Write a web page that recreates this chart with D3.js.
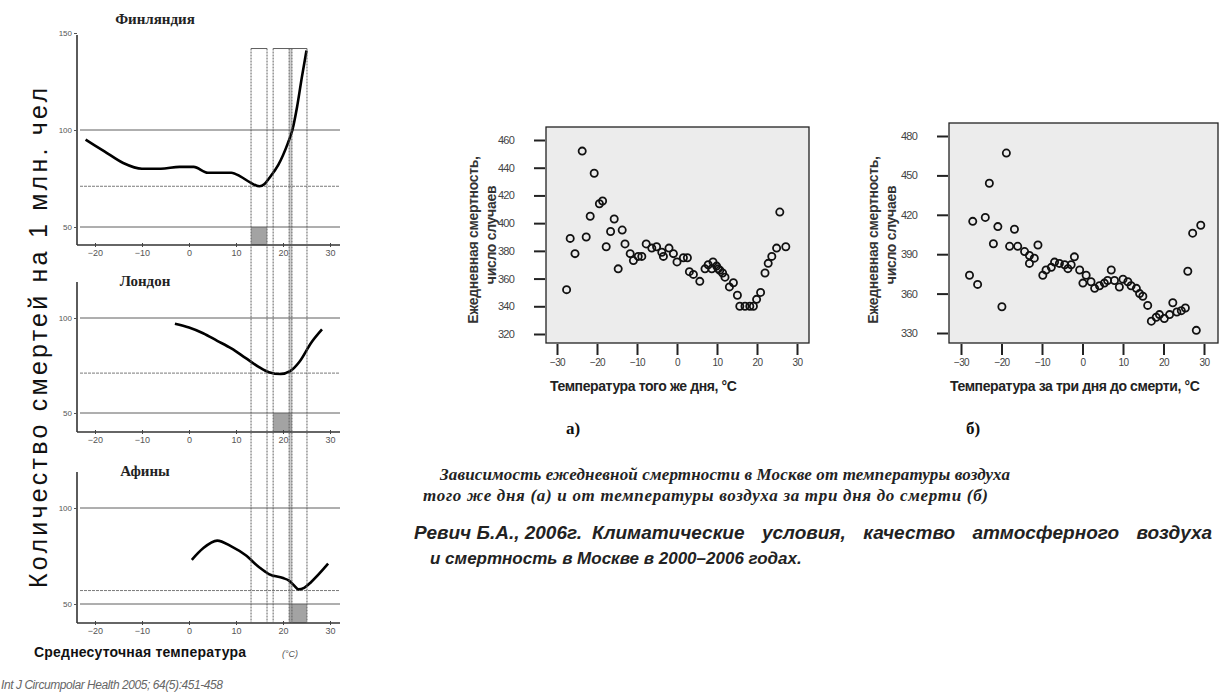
<!DOCTYPE html>
<html>
<head>
<meta charset="utf-8">
<script src="https://cdn.jsdelivr.net/npm/d3@7"></script>
<style>
body { margin: 0; background: #fff; }
svg { display: block; }
</style>
</head>
<body>
<div id="chart"></div>
<script>
// left block: deaths per 1 mln vs mean daily temperature
var tempTicks = [-20, -10, 0, 10, 20, 30];
var finTemp = [-22, -18, -14, -10, -6, -2, 1, 4, 7, 9, 11, 13, 15, 16, 17, 19, 21, 22, 23, 24, 25];
var finDeaths = [95, 89, 83, 80, 80, 81, 81, 78, 78, 78, 76, 73, 71, 72, 75, 82, 93, 100, 112, 127, 141];
var lonTemp = [-3, 0, 3, 6, 9, 12, 15, 17, 19.5, 21.5, 23.5, 26, 28.3];
var lonDeaths = [97, 95, 92, 88, 84, 79, 74, 71.5, 70.5, 72, 77, 87, 94];
var athTemp = [0.6, 3, 6, 9, 12, 15, 17, 20, 21.2, 22.3, 23.3, 24.5, 26, 29.6];
var athDeaths = [73, 79, 83, 80, 75.5, 69, 65.6, 63.5, 62.3, 59.8, 57.6, 58.4, 61.5, 71];
var minLevels = [71, 71, 57];          // Finland, London, Athens
var bandEdges = [13.2, 16.6, 17.9, 21.3, 21.9, 25.1];

// right block: Moscow daily mortality
var xTicksM = [-30, -20, -10, 0, 10, 20, 30];
var yTicksA = [320, 340, 360, 380, 400, 420, 440, 460];
var yTicksB = [330, 360, 390, 420, 450, 480];
var dayTemp = [-27.6, -26.7, -25.5, -23.7, -22.7, -21.7, -20.7, -19.4, -18.6, -17.7, -16.6, -15.7, -14.7, -13.7, -13, -11.7, -10.9, -9.7, -8.8, -7.7, -6.3, -5.1, -3.8, -3.4, -2, -0.9, 0, 1.6, 2.6, 3.1, 4.1, 5.7, 7, 7.8, 8.7, 9, 9.9, 10.3, 10.7, 11.4, 12, 13.1, 14.1, 15.1, 15.7, 17, 18.2, 19.1, 19.9, 20.9, 22, 22.8, 23.7, 24.9, 25.7, 27.2];
var dayDeaths = [352, 389, 378, 452, 390, 405, 436, 414, 416, 383, 394, 403, 367, 395, 385, 378, 373, 376, 376, 385, 382, 383, 379, 376, 382, 378, 372, 375, 375, 365, 363, 358, 367, 370, 367, 372, 369, 367, 366, 364, 361, 354, 357, 348, 340, 340, 340, 340, 345, 350, 364, 371, 376, 382, 408, 383];
var lagTemp = [-27.9, -27.1, -25.9, -24, -23, -22, -20.9, -19.9, -18.8, -18, -16.8, -16, -14.3, -13.1, -13.1, -11.9, -11, -9.8, -9, -7.7, -6.9, -5.7, -4.4, -3.6, -2.8, -2, -0.7, 0.1, 0.9, 2.1, 3, 4.2, 5.4, 6.2, 7.1, 7.9, 9.1, 10, 11.2, 12, 13.3, 14.1, 14.9, 16.1, 17, 18.2, 19, 20.2, 21.5, 22.3, 23.3, 24.4, 25.4, 26, 27.2, 28.1, 29.2];
var lagDeaths = [374, 415, 367, 418, 444, 398, 411, 350, 467, 396, 409, 396, 392, 389, 383, 387, 397, 374, 378, 380, 384, 383, 382, 379, 382, 388, 378, 368, 374, 369, 364, 366, 368, 370, 378, 370, 365, 371, 369, 366, 364, 360, 358, 351, 339, 342, 344, 341, 344, 353, 346, 347, 349, 377, 406, 332, 412];

var w = 1231;
var h = 696;
var serif = "'Liberation Serif', 'DejaVu Serif', serif";

var svg = d3.select("#chart")
    .append("svg")
    .attr("width", w)
    .attr("height", h)
    .style("font-family", "'Liberation Sans', Arial, sans-serif");

// ---------- left block ----------
var xL = d3.scaleLinear().domain([-20, 30]).range([95, 330]);
var axisX0 = 77, gridX1 = 340;

var panels = [
    {name: "Финляндия", temp: finTemp, deaths: finDeaths, min: minLevels[0], y: d3.scaleLinear().domain([50, 100]).range([227, 130]),
     top: 35, base: 245, yticks: [50, 100, 150], titleX: 155, titleY: 24, shade: [bandEdges[0], bandEdges[1]]},
    {name: "Лондон", temp: lonTemp, deaths: lonDeaths, min: minLevels[1], y: d3.scaleLinear().domain([50, 100]).range([413, 318]),
     top: 282, base: 432, yticks: [50, 100], titleX: 145, titleY: 286, shade: [bandEdges[2], bandEdges[4]]},
    {name: "Афины", temp: athTemp, deaths: athDeaths, min: minLevels[2], y: d3.scaleLinear().domain([50, 100]).range([604, 508]),
     top: 472, base: 623, yticks: [50, 100], titleX: 145, titleY: 476, shade: [bandEdges[3], bandEdges[5]]}
];

var boxTop = panels[0].y(142);
var boxBottom = panels[2].base;

// light strip inside the right band
svg.append("rect")
    .attr("x", xL(bandEdges[3]))
    .attr("y", boxTop)
    .attr("width", xL(bandEdges[4]) - xL(bandEdges[3]))
    .attr("height", boxBottom - boxTop)
    .attr("fill", "#cfcfcf");

panels.forEach(function(p) {
    var g = svg.append("g");

    // shaded optimum under the 50 line
    g.append("rect")
        .attr("x", xL(p.shade[0]))
        .attr("y", p.y(50))
        .attr("width", xL(p.shade[1]) - xL(p.shade[0]))
        .attr("height", p.base - p.y(50))
        .attr("fill", "#a3a3a3");

    [100, 50].forEach(function(v) {
        g.append("line")
            .attr("x1", axisX0 + 3).attr("x2", gridX1)
            .attr("y1", p.y(v)).attr("y2", p.y(v))
            .attr("stroke", "#5e5e5e").attr("stroke-width", 1);
    });
    g.append("line")
        .attr("x1", axisX0 + 3).attr("x2", gridX1)
        .attr("y1", p.y(p.min)).attr("y2", p.y(p.min))
        .attr("stroke", "#7a7a7a").attr("stroke-width", 1)
        .attr("stroke-dasharray", "3,1");

    // axes
    g.append("line")
        .attr("x1", axisX0).attr("x2", axisX0)
        .attr("y1", p.top).attr("y2", p.base)
        .attr("stroke", "#333").attr("stroke-width", 1.6);
    g.append("line")
        .attr("x1", axisX0).attr("x2", gridX1)
        .attr("y1", p.base).attr("y2", p.base)
        .attr("stroke", "#333").attr("stroke-width", 1.6);

    var ya = g.append("g")
        .attr("transform", "translate(" + axisX0 + ",0)")
        .call(d3.axisLeft(p.y).tickValues(p.yticks).tickSize(3).tickPadding(2));
    ya.select(".domain").remove();
    ya.selectAll("text").attr("font-size", 8).attr("fill", "#555");
    ya.selectAll("line").attr("stroke", "#555");

    var xa = g.append("g")
        .attr("transform", "translate(0," + (p.base - 2) + ")")
        .call(d3.axisBottom(xL).tickValues(tempTicks).tickSize(4).tickPadding(3));
    xa.select(".domain").remove();
    xa.selectAll("text").attr("font-size", 9).attr("fill", "#555");
    xa.selectAll("line").attr("stroke", "#444");

    g.append("text")
        .attr("x", p.titleX).attr("y", p.titleY)
        .attr("text-anchor", "middle")
        .attr("font-family", serif)
        .attr("font-weight", "bold")
        .attr("font-size", 15)
        .attr("fill", "#222")
        .text(p.name);

    var line = d3.line()
        .x(function(d) { return xL(d[0]); })
        .y(function(d) { return p.y(d[1]); })
        .curve(d3.curveMonotoneX);
    g.append("path")
        .attr("d", line(d3.zip(p.temp, p.deaths)))
        .attr("fill", "none")
        .attr("stroke", "#000")
        .attr("stroke-width", 2.6);
});

// dotted band borders over all three panels
bandEdges.forEach(function(t) {
    svg.append("line")
        .attr("x1", xL(t)).attr("x2", xL(t))
        .attr("y1", boxTop).attr("y2", boxBottom)
        .attr("stroke", "#5f5f5f").attr("stroke-width", 1)
        .attr("stroke-dasharray", "2,1");
});
[[bandEdges[0], bandEdges[1]], [bandEdges[2], bandEdges[5]]].forEach(function(b) {
    svg.append("line")
        .attr("x1", xL(b[0])).attr("x2", xL(b[1]))
        .attr("y1", boxTop).attr("y2", boxTop)
        .attr("stroke", "#5f5f5f").attr("stroke-width", 1);
});

svg.append("text")
    .attr("transform", "translate(47,338) rotate(-90)")
    .attr("text-anchor", "middle")
    .attr("font-size", 25)
    .attr("textLength", 500)
    .attr("fill", "#111")
    .text("Количество смертей на 1 млн. чел");

svg.append("text")
    .attr("x", 34).attr("y", 657)
    .attr("font-size", 14).attr("font-weight", "bold")
    .attr("textLength", 212)
    .attr("fill", "#111")
    .text("Среднесуточная температура");
svg.append("text")
    .attr("x", 282).attr("y", 657)
    .attr("font-size", 9).attr("font-style", "italic")
    .attr("fill", "#555")
    .text("(°C)");

svg.append("text")
    .attr("x", 1).attr("y", 689)
    .attr("font-size", 12).attr("font-style", "italic")
    .attr("textLength", 222)
    .attr("fill", "#666")
    .text("Int J Circumpolar Health 2005; 64(5):451-458");

// ---------- Moscow scatter plots ----------
var plots = [
    {temp: dayTemp, deaths: dayDeaths, box: [546, 809, 127, 343], x: [557, 797], y: [334, 140], ydom: [320, 460], yticks: yTicksA,
     xlab: "Температура того же дня, °C", xlabX: 550, tag: "а)", tagX: 566, ylabX: 478},
    {temp: lagTemp, deaths: lagDeaths, box: [949, 1218, 123, 343], x: [961, 1204], y: [333, 136], ydom: [330, 480], yticks: yTicksB,
     xlab: "Температура за три дня до смерти, °C", xlabX: 950, tag: "б)", tagX: 966, ylabX: 878}
];

plots.forEach(function(p) {
    var g = svg.append("g");
    var xs = d3.scaleLinear().domain([-30, 30]).range(p.x);
    var ys = d3.scaleLinear().domain(p.ydom).range(p.y);

    g.append("rect")
        .attr("x", p.box[0]).attr("y", p.box[2])
        .attr("width", p.box[1] - p.box[0])
        .attr("height", p.box[3] - p.box[2])
        .attr("fill", "#ececec")
        .attr("stroke", "#222").attr("stroke-width", 1.3);

    var ya = g.append("g")
        .attr("transform", "translate(" + (p.box[0] - 1) + ",0)")
        .call(d3.axisLeft(ys).tickValues(p.yticks).tickSize(11).tickPadding(20));
    ya.select(".domain").remove();
    ya.selectAll("line").attr("stroke", "#222").attr("stroke-width", 2);
    ya.selectAll("text").attr("font-size", 11).attr("fill", "#444").attr("letter-spacing", -0.8);

    var xa = g.append("g")
        .attr("transform", "translate(0," + (p.box[3] + 1) + ")")
        .call(d3.axisBottom(xs).tickValues(xTicksM).tickSize(11).tickPadding(4));
    xa.select(".domain").remove();
    xa.selectAll("line").attr("stroke", "#222").attr("stroke-width", 2);
    xa.selectAll("text").attr("font-size", 10).attr("fill", "#444").attr("letter-spacing", -0.6);

    g.selectAll(".dot")
        .data(d3.zip(p.temp, p.deaths))
        .enter()
        .append("circle")
        .attr("class", "dot")
        .attr("cx", function(d) { return xs(d[0]); })
        .attr("cy", function(d) { return ys(d[1]); })
        .attr("r", 3.6)
        .attr("fill", "none")
        .attr("stroke", "#111")
        .attr("stroke-width", 1.8);

    g.append("text")
        .attr("x", p.xlabX).attr("y", 391)
        .attr("font-size", 14).attr("font-weight", "bold")
        .attr("fill", "#222")
        .attr("letter-spacing", -0.4)
        .text(p.xlab);

    g.append("text")
        .attr("transform", "translate(" + p.ylabX + ",240) rotate(-90)")
        .attr("text-anchor", "middle")
        .attr("font-size", 14).attr("font-weight", "bold")
        .attr("letter-spacing", -0.3)
        .attr("fill", "#333")
        .text("Ежедневная смертность,");
    g.append("text")
        .attr("transform", "translate(" + (p.ylabX + 18) + ",235) rotate(-90)")
        .attr("text-anchor", "middle")
        .attr("font-size", 14).attr("font-weight", "bold")
        .attr("letter-spacing", -0.3)
        .attr("fill", "#333")
        .text("число случаев");

    g.append("text")
        .attr("x", p.tagX).attr("y", 434)
        .attr("font-family", serif)
        .attr("font-size", 17).attr("font-weight", "bold")
        .attr("fill", "#111")
        .text(p.tag);
});

// captions
svg.append("text")
    .attr("x", 440).attr("y", 480)
    .attr("font-family", serif).attr("font-size", 17)
    .attr("font-weight", "bold").attr("font-style", "italic")
    .attr("textLength", 570)
    .attr("fill", "#222")
    .text("Зависимость ежедневной смертности в Москве от температуры воздуха");
svg.append("text")
    .attr("x", 423).attr("y", 501)
    .attr("font-family", serif).attr("font-size", 17)
    .attr("font-weight", "bold").attr("font-style", "italic")
    .attr("textLength", 565)
    .attr("fill", "#222")
    .text("того же дня (а) и от температуры воздуха за три дня до смерти (б)");

var ref = svg.append("text")
    .attr("x", 414).attr("y", 539)
    .attr("font-size", 19).attr("font-weight", "bold").attr("font-style", "italic")
    .attr("fill", "#222");
ref.append("tspan").text("Ревич Б.А., 2006г.");
var refTail = ref.append("tspan").attr("x", 592)
    .text("Климатические условия, качество атмосферного воздуха");
// spread the words so the line runs close to the right edge, as in the slide
var tailW = refTail.node().getComputedTextLength();
refTail.attr("word-spacing", Math.max(0, (1212 - 592 - tailW) / 4));
svg.append("text")
    .attr("x", 430).attr("y", 564)
    .attr("font-size", 17).attr("font-weight", "bold").attr("font-style", "italic")
    .attr("fill", "#222")
    .text("и смертность в Москве в 2000–2006 годах.");
</script>
</body>
</html>
